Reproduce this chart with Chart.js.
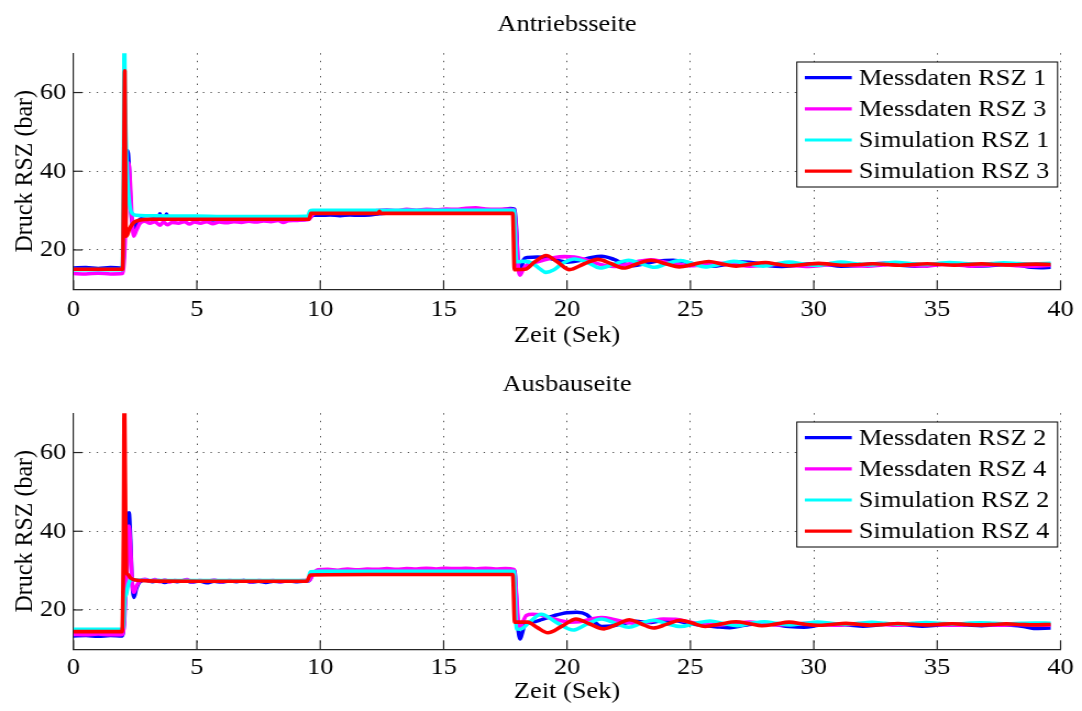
<!DOCTYPE html>
<html>
<head>
<meta charset="utf-8">
<script src="https://cdn.jsdelivr.net/npm/chart.js@4.4.1/dist/chart.umd.min.js"></script>
<style>
  html, body { margin: 0; padding: 0; background: #fff; width: 1082px; height: 711px; overflow: hidden; }
  canvas { position: absolute; left: 0; }
</style>
</head>
<body>
<canvas id="antrieb" width="984" height="360" style="top:0px;width:1082px;height:360px"></canvas>
<canvas id="ausbau" width="984" height="351" style="top:360px;width:1082px;height:351px"></canvas>
<script>
// ---- data: time (s) / pressure (bar) pairs ----
const xTicksStep = 5;
const yTickValues = [20, 40, 60];
const seriesLabelsTop = ['Messdaten RSZ 1', 'Messdaten RSZ 3', 'Simulation RSZ 1', 'Simulation RSZ 3'];
const seriesLabelsBottom = ['Messdaten RSZ 2', 'Messdaten RSZ 4', 'Simulation RSZ 2', 'Simulation RSZ 4'];
const seriesColors = ['#0000ff', '#ff00ff', '#00ffff', '#ff0000'];

const antriebMess1 = [[0,15.4],[0.5,15.5],[1.0,15.3],[1.5,15.5],[1.97,15.4],[2.04,19.0],[2.12,33.0],[2.2,45.2],[2.26,40.0],[2.33,30.0],[2.4,26.5],[2.48,25.2],[2.6,27.0],[2.75,27.9],[3.0,27.7],[3.25,27.9],[3.45,27.8],[3.5,29.2],[3.56,27.9],[3.72,28.0],[3.77,29.1],[3.83,27.9],[4.1,27.8],[4.4,28.0],[4.7,28.4],[4.75,27.9],[5.0,27.7],[5.3,27.9],[5.6,27.6],[5.9,27.8],[6.2,27.7],[6.5,27.9],[6.8,27.6],[7.1,27.8],[7.4,27.7],[7.7,27.9],[8.0,27.6],[8.3,27.8],[8.6,27.7],[8.9,27.9],[9.2,27.7],[9.5,27.9],[9.62,28.4],[9.7,28.9],[10.0,28.8],[10.4,28.9],[10.8,28.7],[11.2,28.9],[11.6,28.8],[12.0,28.9],[12.4,29.2],[12.8,29.4],[13.2,29.6],[13.6,29.7],[14.0,29.8],[14.5,29.7],[15.0,29.9],[15.5,29.8],[16.0,29.9],[16.5,29.8],[17.0,29.9],[17.4,30.2],[17.7,30.5],[17.88,30.3],[17.95,25.0],[18.02,16.0],[18.08,14.6],[18.15,15.5],[18.25,17.6],[18.4,18.1],[18.8,18.2],[19.2,18.0],[19.6,17.4],[20.0,16.9],[20.5,17.3],[21.0,18.1],[21.4,18.4],[21.9,17.6],[22.3,16.5],[22.7,16.0],[23.2,16.6],[23.7,17.2],[24.3,17.4],[24.9,16.8],[25.4,16.1],[25.9,15.9],[26.5,16.4],[27.1,16.9],[27.7,16.6],[28.2,16.0],[28.7,15.8],[29.3,16.1],[29.9,16.5],[30.5,16.3],[31.1,15.9],[31.7,16.0],[32.3,16.4],[32.9,16.6],[33.5,16.1],[34.1,15.9],[34.7,16.2],[35.3,16.5],[35.9,16.3],[36.5,15.9],[37.1,16.0],[37.7,16.3],[38.3,16.1],[38.8,15.6],[39.2,15.5],[39.6,15.6]];

const antriebMess3 = [[0,14.0],[0.5,13.9],[1.0,14.1],[1.5,13.9],[1.98,14.0],[2.06,18.0],[2.15,32.0],[2.24,42.1],[2.3,37.0],[2.37,28.0],[2.44,23.5],[2.55,25.0],[2.7,26.8],[2.9,27.3],[3.1,26.8],[3.3,27.2],[3.5,26.3],[3.65,27.1],[3.8,26.4],[4.0,27.0],[4.25,26.8],[4.5,27.2],[4.7,26.6],[4.9,27.1],[5.15,26.8],[5.4,27.2],[5.65,26.7],[5.9,27.1],[6.2,26.9],[6.5,27.2],[6.8,27.0],[7.1,27.3],[7.4,27.1],[7.7,27.4],[8.0,27.2],[8.3,27.5],[8.5,27.0],[8.7,27.4],[9.0,27.5],[9.3,27.6],[9.55,27.8],[9.7,29.0],[9.9,29.7],[10.3,29.6],[10.7,29.8],[11.1,29.7],[11.5,29.9],[11.9,29.8],[12.3,30.0],[12.7,30.2],[13.1,30.0],[13.5,30.3],[13.9,30.1],[14.3,30.3],[14.7,30.2],[15.1,30.4],[15.5,30.3],[15.9,30.6],[16.3,30.7],[16.7,30.4],[17.1,30.3],[17.5,30.4],[17.85,30.2],[17.95,24.0],[18.03,15.0],[18.1,13.6],[18.18,14.5],[18.3,15.8],[18.6,16.6],[19.0,17.3],[19.5,18.1],[19.9,18.3],[20.3,18.2],[20.8,17.4],[21.3,16.4],[21.9,15.8],[22.4,16.3],[22.9,17.1],[23.4,17.5],[23.9,17.0],[24.4,16.4],[25.0,16.0],[25.6,16.2],[26.2,16.6],[26.8,16.3],[27.4,15.9],[28.0,16.1],[28.6,16.4],[29.2,16.0],[29.8,15.8],[30.4,16.1],[31.0,16.4],[31.6,16.0],[32.2,15.9],[32.8,16.2],[33.4,16.4],[34.0,16.0],[34.6,15.9],[35.2,16.3],[35.8,16.2],[36.4,15.9],[37.0,16.1],[37.6,16.3],[38.2,16.0],[38.8,15.9],[39.6,16.1]];

const antriebSim1 = [[0,15.0],[1.0,15.0],[1.98,15.0],[2.03,40.0],[2.06,74.0],[2.09,60.0],[2.12,50.0],[2.16,42.0],[2.22,35.0],[2.3,30.5],[2.4,29.2],[2.55,28.8],[3.0,28.7],[4.0,28.6],[5.0,28.6],[6.0,28.5],[7.0,28.5],[8.0,28.5],[9.0,28.5],[9.5,28.6],[9.58,29.9],[9.7,30.1],[11.0,30.1],[13.0,30.1],[15.0,30.1],[17.0,30.1],[17.85,30.1],[17.95,17.0],[18.3,17.1],[18.6,16.6],[18.9,15.2],[19.15,14.3],[19.45,14.9],[19.8,16.5],[20.3,17.7],[20.8,16.9],[21.35,15.4],[21.9,16.4],[22.5,17.4],[23.0,16.5],[23.55,15.6],[24.0,16.4],[24.6,17.3],[25.1,16.5],[25.6,15.7],[26.2,16.4],[26.75,17.1],[27.3,16.5],[27.95,15.9],[28.5,16.5],[29.0,16.9],[29.6,16.4],[30.15,16.1],[30.6,16.5],[31.1,16.9],[31.7,16.5],[32.3,16.2],[32.8,16.55],[33.3,16.85],[33.9,16.55],[34.5,16.3],[35.0,16.55],[35.5,16.8],[36.1,16.55],[36.7,16.35],[37.2,16.55],[37.7,16.75],[38.3,16.55],[38.9,16.4],[39.6,16.6]];

const antriebSim3 = [[0,15.1],[1.0,15.1],[1.99,15.1],[2.04,40.0],[2.08,65.5],[2.1,48.0],[2.13,23.5],[2.18,23.8],[2.28,25.5],[2.45,27.0],[2.7,27.6],[3.2,27.8],[5.0,27.8],[7.0,27.8],[9.3,27.8],[9.55,27.8],[9.62,29.3],[12.35,29.3],[12.4,29.8],[12.45,29.3],[15.0,29.3],[17.8,29.3],[17.87,15.0],[18.3,15.1],[18.7,17.0],[19.15,18.6],[19.6,17.0],[20.1,15.0],[20.7,16.5],[21.25,17.6],[21.8,16.5],[22.3,15.4],[22.85,16.5],[23.4,17.4],[24.0,16.5],[24.55,15.7],[25.15,16.4],[25.75,17.05],[26.3,16.4],[26.85,15.9],[27.45,16.4],[28.05,16.8],[28.5,16.4],[29.0,16.0],[29.6,16.3],[30.2,16.6],[30.7,16.35],[31.3,16.1],[31.85,16.3],[32.4,16.5],[33.0,16.3],[33.5,16.1],[34.0,16.3],[34.6,16.5],[35.2,16.3],[35.7,16.15],[36.2,16.3],[36.8,16.45],[37.4,16.3],[37.9,16.2],[38.4,16.3],[39.0,16.4],[39.6,16.3]];

const ausbauMess2 = [[0,13.4],[0.5,13.5],[1.0,13.3],[1.5,13.5],[1.97,13.4],[2.05,17.0],[2.14,32.0],[2.25,44.7],[2.31,38.0],[2.37,28.0],[2.45,23.2],[2.55,25.5],[2.7,27.2],[2.95,27.6],[3.2,27.2],[3.45,27.5],[3.7,27.0],[3.95,27.4],[4.2,27.2],[4.5,27.5],[4.8,27.1],[5.1,27.4],[5.4,26.9],[5.7,27.3],[6.0,27.1],[6.3,27.4],[6.6,27.2],[6.9,27.5],[7.2,27.1],[7.5,27.3],[7.8,27.0],[8.1,27.3],[8.4,27.2],[8.7,27.4],[9.0,27.2],[9.3,27.3],[9.55,27.4],[9.65,28.6],[9.8,29.6],[10.2,29.7],[10.6,29.6],[11.0,29.8],[11.5,29.7],[12.0,29.9],[12.5,29.8],[13.0,29.9],[13.5,29.8],[14.0,30.0],[14.5,29.9],[15.0,30.0],[15.5,29.9],[16.0,30.0],[16.5,29.9],[17.0,30.0],[17.5,30.1],[17.88,30.0],[17.95,22.0],[18.03,14.5],[18.1,12.6],[18.18,14.0],[18.3,16.5],[18.6,16.9],[19.0,17.6],[19.5,18.6],[20.0,19.3],[20.4,19.4],[20.8,18.8],[21.1,17.0],[21.4,15.8],[21.8,15.9],[22.3,16.6],[22.8,17.1],[23.3,16.8],[23.8,17.2],[24.3,17.3],[24.9,16.6],[25.5,16.1],[26.1,15.7],[26.6,15.5],[27.2,16.1],[27.8,16.6],[28.4,16.3],[29.0,15.8],[29.6,15.6],[30.2,16.1],[30.8,16.4],[31.4,16.2],[32.0,15.9],[32.6,16.2],[33.2,16.5],[33.8,16.2],[34.4,15.9],[35.0,16.1],[35.6,16.4],[36.2,16.2],[36.8,16.0],[37.4,16.2],[38.0,16.1],[38.5,15.8],[38.9,15.3],[39.6,15.4]];

const ausbauMess4 = [[0,13.8],[0.5,13.7],[1.0,13.9],[1.5,13.7],[1.98,13.8],[2.06,17.0],[2.16,30.0],[2.25,41.3],[2.31,36.0],[2.38,27.0],[2.45,24.5],[2.55,26.0],[2.7,27.4],[2.9,27.8],[3.1,27.3],[3.3,27.7],[3.5,27.2],[3.7,27.6],[3.9,27.1],[4.1,27.5],[4.3,27.3],[4.6,27.7],[4.8,27.2],[5.1,27.5],[5.4,27.3],[5.7,27.6],[6.0,27.2],[6.3,27.5],[6.6,27.3],[6.9,27.5],[7.2,27.2],[7.5,27.5],[7.8,27.3],[8.1,27.5],[8.4,27.2],[8.7,27.4],[9.0,27.3],[9.3,27.5],[9.55,27.5],[9.7,29.0],[9.9,30.2],[10.3,30.3],[10.7,30.1],[11.1,30.4],[11.5,30.2],[11.9,30.4],[12.3,30.3],[12.7,30.5],[13.1,30.3],[13.5,30.5],[13.9,30.4],[14.3,30.6],[14.7,30.4],[15.1,30.6],[15.5,30.5],[15.9,30.6],[16.3,30.4],[16.7,30.6],[17.1,30.4],[17.5,30.5],[17.85,30.3],[17.95,24.0],[18.03,16.5],[18.1,15.6],[18.2,16.8],[18.35,18.6],[18.6,18.9],[18.9,18.8],[19.3,18.0],[19.7,17.3],[20.1,16.9],[20.5,17.0],[21.0,17.7],[21.4,18.1],[21.9,17.6],[22.4,16.9],[22.9,16.6],[23.4,17.1],[23.9,17.7],[24.4,17.6],[25.0,16.9],[25.6,16.4],[26.2,16.2],[26.8,16.6],[27.4,16.9],[28.0,16.5],[28.6,16.2],[29.2,16.4],[29.8,16.6],[30.4,16.3],[31.0,16.1],[31.6,16.4],[32.2,16.6],[32.8,16.3],[33.4,16.1],[34.0,16.4],[34.6,16.5],[35.2,16.2],[35.8,16.1],[36.4,16.4],[37.0,16.3],[37.6,16.1],[38.2,16.3],[38.8,16.2],[39.6,16.1]];

const ausbauSim2 = [[0,15.1],[1.0,15.1],[1.98,15.1],[2.04,17.5],[2.08,22.7],[2.14,24.0],[2.22,26.5],[2.35,27.8],[2.55,27.6],[3.0,27.5],[5.0,27.5],[7.0,27.5],[9.5,27.5],[9.6,29.7],[10.0,29.8],[12.0,29.8],[15.0,29.8],[17.85,29.8],[17.95,15.2],[18.1,15.1],[18.5,17.0],[18.95,18.9],[19.6,16.7],[20.25,14.9],[20.8,16.4],[21.4,17.7],[22.0,16.5],[22.5,15.6],[23.0,16.6],[23.5,17.4],[24.05,16.5],[24.6,15.8],[25.2,16.6],[25.8,17.2],[26.35,16.5],[26.9,16.0],[27.45,16.6],[28.0,17.0],[28.5,16.6],[29.05,16.2],[29.6,16.6],[30.15,16.9],[30.7,16.6],[31.25,16.3],[31.8,16.6],[32.35,16.85],[32.9,16.6],[33.45,16.35],[34.0,16.6],[34.55,16.8],[35.1,16.6],[35.65,16.4],[36.2,16.6],[36.75,16.75],[37.3,16.6],[37.85,16.45],[38.4,16.6],[38.95,16.7],[39.6,16.6]];

const ausbauSim4 = [[0,14.5],[1.0,14.5],[1.97,14.5],[2.03,40.0],[2.06,74.0],[2.1,52.0],[2.14,30.0],[2.2,29.0],[2.3,28.2],[2.5,27.6],[3.0,27.4],[5.0,27.3],[7.0,27.3],[9.45,27.3],[9.6,28.9],[12.0,29.0],[15.0,29.0],[17.8,29.0],[17.88,16.9],[18.4,16.9],[18.8,15.5],[19.22,14.2],[19.8,15.9],[20.37,17.7],[20.9,16.5],[21.5,15.2],[22.0,16.3],[22.53,17.5],[23.0,16.5],[23.5,15.4],[24.05,16.4],[24.6,17.4],[25.1,16.6],[25.6,15.8],[26.2,16.4],[26.85,17.0],[27.4,16.5],[27.9,16.0],[28.45,16.4],[29.0,16.9],[29.6,16.4],[30.15,16.1],[30.7,16.3],[31.3,16.6],[31.8,16.35],[32.3,16.15],[32.85,16.3],[33.4,16.55],[34.0,16.35],[34.5,16.2],[35.0,16.3],[35.6,16.5],[36.2,16.3],[36.7,16.2],[37.25,16.3],[37.8,16.45],[38.4,16.3],[38.9,16.2],[39.6,16.3]];

// ---- drawing ----
const SX = 1082 / 984;             // horizontal stretch of the canvases
const FONT = '"Liberation Serif", "Times New Roman", serif';
Chart.defaults.font.family = FONT;
Chart.defaults.font.size = 24;
Chart.defaults.color = '#000';

// inward tick marks on the left and bottom axes
const innerTicks = {
  id: 'innerTicks',
  beforeDatasetsDraw(chart) {
    const { ctx, chartArea: a, scales: { x, y } } = chart;
    ctx.save();
    ctx.strokeStyle = '#262626';
    ctx.lineWidth = 1.2;
    x.ticks.forEach(t => {
      const px = x.getPixelForValue(t.value);
      ctx.beginPath(); ctx.moveTo(px, a.bottom); ctx.lineTo(px, a.bottom - 9); ctx.stroke();
    });
    y.ticks.forEach(t => {
      const py = y.getPixelForValue(t.value);
      ctx.beginPath(); ctx.moveTo(a.left, py); ctx.lineTo(a.left + 9 / SX, py); ctx.stroke();
    });
    ctx.restore();
  }
};

// boxed legend in the upper right corner of the plot
const boxLegend = {
  id: 'boxLegend',
  afterDraw(chart) {
    const { ctx, chartArea: a } = chart;
    const ds = chart.data.datasets;
    ctx.save();
    ctx.font = '24px ' + FONT;
    const maxW = Math.max(...ds.map(d => ctx.measureText(d.label).width));
    const padL = 7.3, lineLen = 42.7, gap = 6.3, padR = 7.5, rowH = 31.2;
    const w = padL + lineLen + gap + maxW + padR;
    const h = rowH * ds.length + 0.2;
    const right = a.right - 2.7, top = a.top + 8.8, left = right - w;
    ctx.fillStyle = '#fff';
    ctx.fillRect(left, top, w, h);
    ctx.strokeStyle = '#000';
    ctx.lineWidth = 1;
    ctx.strokeRect(left, top, w, h);
    ds.forEach((d, i) => {
      const cy = top + 15.6 + i * rowH;
      ctx.strokeStyle = d.borderColor;
      ctx.lineWidth = 3.2;
      ctx.beginPath(); ctx.moveTo(left + padL, cy); ctx.lineTo(left + padL + lineLen, cy); ctx.stroke();
      ctx.fillStyle = '#000';
      ctx.textAlign = 'left';
      ctx.textBaseline = 'middle';
      ctx.fillText(d.label, left + padL + lineLen + gap, cy + 1);
    });
    ctx.restore();
  }
};

function makeChart(id, titleText, labels, seriesData, xTickPad, xTitlePad) {
  const canvas = document.getElementById(id);
  const H = canvas.height;
  return new Chart(canvas, {
    type: 'line',
    data: {
      datasets: seriesData.map((d, i) => ({
        label: labels[i],
        data: d,
        borderColor: seriesColors[i],
        backgroundColor: seriesColors[i],
        borderWidth: 3.6,
        pointRadius: 0,
        cubicInterpolationMode: 'monotone',
        borderJoinStyle: 'round',
        clip: 0,
        order: seriesData.length - i
      }))
    },
    options: {
      responsive: false,
      animation: false,
      devicePixelRatio: 1,
      events: [],
      layout: { padding: { left: 0, right: 19.5, top: 0, bottom: 0 } },
      plugins: {
        legend: { display: false },
        tooltip: { enabled: false },
        title: {
          display: true, text: titleText, fullSize: false,
          font: { size: 24, weight: 'normal' }, color: '#000',
          padding: { top: 10.6, bottom: 13.8 }
        }
      },
      scales: {
        x: {
          type: 'linear', min: 0, max: 40,
          ticks: { stepSize: xTicksStep, padding: xTickPad, maxRotation: 0, autoSkip: false, color: '#000' },
          grid: { color: '#555', lineWidth: 1, drawTicks: false },
          border: { display: true, color: '#262626', width: 1.3, dash: [1.4, 6.2] },
          title: { display: true, text: 'Zeit (Sek)', color: '#000', padding: { top: 0, bottom: xTitlePad } },
          afterFit(s) { s.height = H - 289.3; }
        },
        y: {
          type: 'linear', min: 10, max: 70,
          afterBuildTicks(s) { s.ticks = yTickValues.map(v => ({ value: v })); },
          ticks: { padding: 6.5, color: '#000' },
          grid: { color: '#555', lineWidth: 1, drawTicks: false },
          border: { display: true, color: '#262626', width: 1.2, dash: [1.3, 5.6] },
          title: { display: true, text: 'Druck RSZ (bar)', color: '#000', padding: { top: 8.3, bottom: 0 } },
          afterFit(s) { s.width = 66.8; }
        }
      }
    },
    plugins: [innerTicks, boxLegend]
  });
}

makeChart('antrieb', 'Antriebsseite', seriesLabelsTop,
  [antriebMess1, antriebMess3, antriebSim1, antriebSim3], 6.3, 9.6);
makeChart('ausbau', 'Ausbauseite', seriesLabelsBottom,
  [ausbauMess2, ausbauMess4, ausbauSim2, ausbauSim4], 4.3, 4.6);
</script>
</body>
</html>
